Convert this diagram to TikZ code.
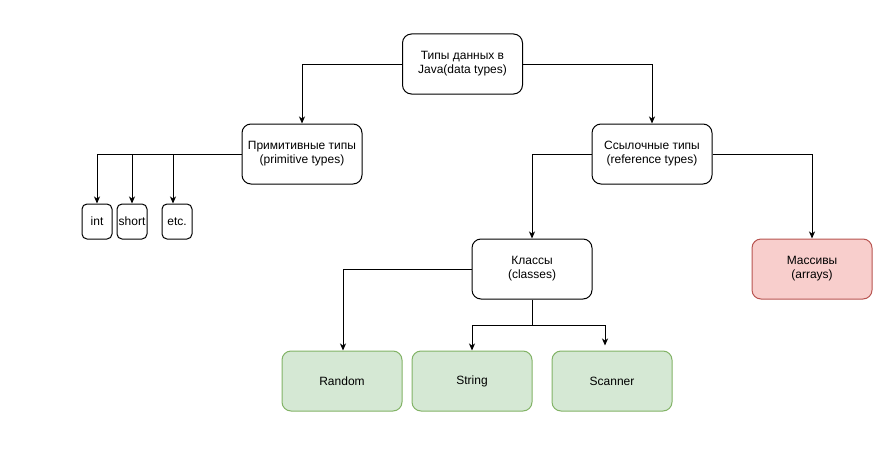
\documentclass[tikz,border=0pt]{standalone}
\usepackage{fontspec}
\setmainfont{Liberation Sans}
\usetikzlibrary{arrows.meta}
\definecolor{grfill}{HTML}{D5E8D4}
\definecolor{grline}{HTML}{82B366}
\definecolor{rdfill}{HTML}{F8CECC}
\definecolor{rdline}{HTML}{B85450}
\tikzset{
  box/.style={draw=black, line width=1pt, rounded corners=9pt, minimum width=120pt, minimum height=60pt, align=center, inner sep=0pt, font=\fontsize{12}{14}\selectfont, fill=white},
  small/.style={draw=black, line width=1pt, rounded corners=5pt, minimum width=30pt, minimum height=35pt, align=center, inner sep=0pt, font=\fontsize{12}{14}\selectfont},
  green/.style={box, fill=grfill, draw=grline},
  red/.style={box, fill=rdfill, draw=rdline},
  conn/.style={line width=1pt, -{Stealth[length=7pt,width=6pt,inset=2pt]}},
}
\begin{document}
\begin{tikzpicture}[x=1pt,y=-1pt]
\useasboundingbox (0,0) rectangle (874,452);
\node[box] (root) at (462.5,64) {Типы данных в\\Java(data types)};
\node[box] (prim) at (302,154) {Примитивные типы\\(primitive types)};
\node[box] (ref) at (652,154) {Ссылочные типы\\(reference types)};
\node[small] (int) at (97,221.5) {int};
\node[small] (short) at (132,221.5) {short};
\node[small] (etc) at (177,221.5) {etc.};
\node[box] (cls) at (532,269) {Классы\\(classes)};
\node[red] (arr) at (812,269) {Массивы\\(arrays)};
\node[green] (rnd) at (342,381) {Random};
\node[green] (str) at (472,381) {String};
\node[green] (scn) at (612,381) {Scanner};

\draw[conn] (root.west) -| (prim.north);
\draw[conn] (root.east) -| (ref.north);
\draw[conn] (prim.west) -| (int.north);
\draw[conn] (prim.west) -| (short.north);
\draw[conn] (prim.west) -| ([xshift=-4pt]etc.north);
\draw[conn] (ref.west) -| (cls.north);
\draw[conn] (ref.east) -| (arr.north);
\draw[conn] (cls.west) -| ([xshift=1pt]rnd.north);
\coordinate (split) at ([yshift=-26pt]cls.south);
\draw[conn] (cls.south) -- (split) -| (str.north);
\draw[conn] (split) -| ([xshift=-7pt,yshift=5pt]scn.north);
\end{tikzpicture}
\end{document}
